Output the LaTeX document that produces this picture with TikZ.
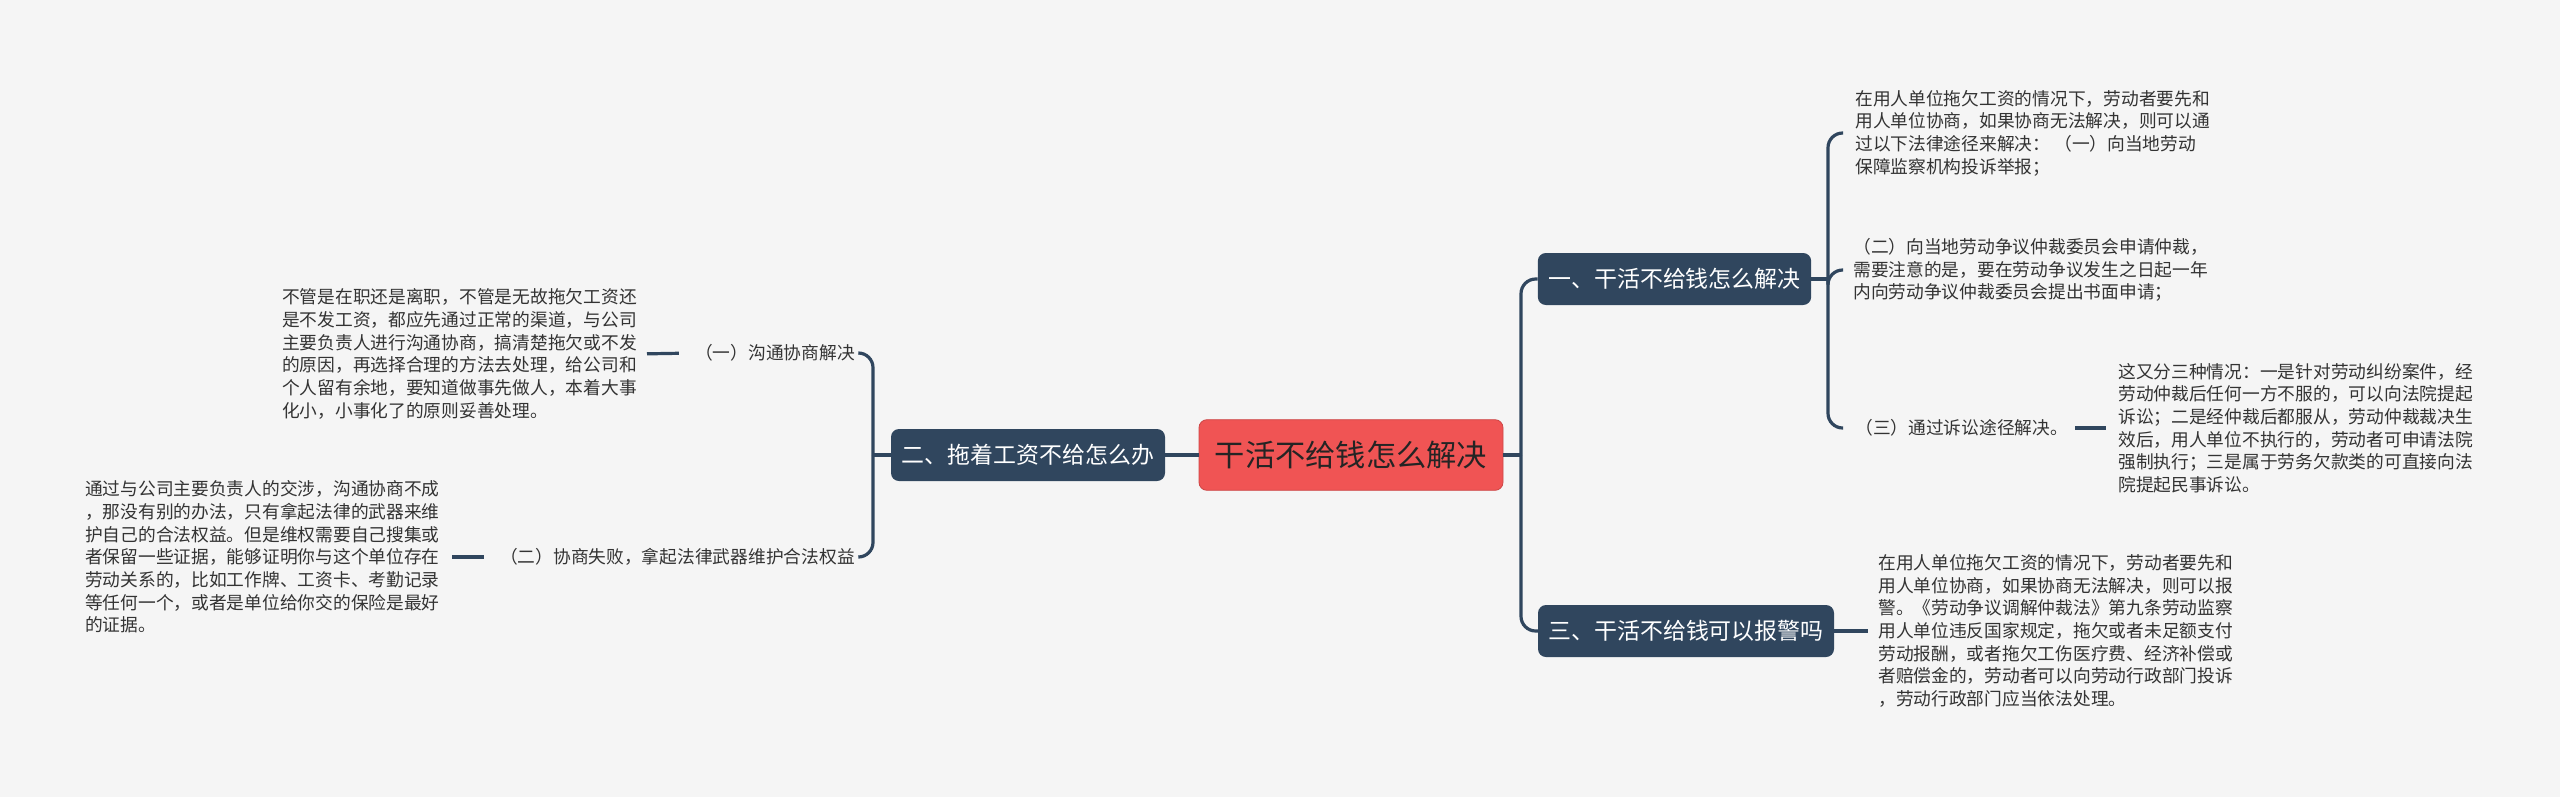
\documentclass[tikz,border=0pt]{standalone}
\usepackage{fontspec}
\setmainfont{Noto Sans CJK SC}
\definecolor{bgpaper}{RGB}{245,245,245}
\definecolor{navyline}{RGB}{48,70,94}
\definecolor{rootred}{RGB}{240,84,84}
\definecolor{textgray}{RGB}{51,51,51}

\begin{document}
\begin{tikzpicture}[
  x=0.75pt,
  y=-0.75pt,
  every node/.style={align=left, inner sep=0pt},
  rootbox/.style={
    draw=rootred!85!black,
    line width=0.6pt,
    fill=rootred,
    rounded corners=6pt,
    text=textgray!70!black,
    font=\fontsize{22.7}{27}\selectfont,
    minimum width=228pt,
    minimum height=53pt,
    align=center
  },
  topicbox/.style={
    fill=navyline,
    rounded corners=6pt,
    text=white,
    font=\fontsize{17.2}{21}\selectfont,
    minimum height=39pt,
    align=center
  },
  leaftext/.style={text=textgray, font=\fontsize{13.3}{17}\selectfont},
  wire/.style={draw=navyline, line width=2.4pt},
  bracket/.style={wire, rounded corners=11pt}
]
  % Paper and frame.
  \fill[bgpaper] (0,0) rectangle (2560,797);
  \useasboundingbox (0,0) rectangle (2560,797);

  % Centre and the three topics.
  \node[rootbox] (root) at (1351,455) {干活不给钱怎么解决};
  \node[topicbox, minimum width=205pt] (how) at (1674.5,279) {一、干活不给钱怎么解决};
  \node[topicbox, minimum width=205.5pt] (delay) at (1028,455) {二、拖着工资不给怎么办};
  \node[topicbox, minimum width=222pt] (police) at (1686,631) {三、干活不给钱可以报警吗};

  \coordinate (rootbus) at (1521,455);
  \draw[wire] (root.east) -- (rootbus);
  \draw[bracket] (rootbus) |- (how.west);
  \draw[bracket] (rootbus) |- (police.west);
  \draw[wire] (delay.east) -- (root.west);

  % Branch one: three legal routes.
  \node[leaftext, anchor=west] (complain) at (1855,133) {在用人单位拖欠工资的情况下，劳动者要先和\\用人单位协商，如果协商无法解决，则可以通\\过以下法律途径来解决：~（一）向当地劳动\\保障监察机构投诉举报；};
  \node[leaftext, anchor=west] (arbitrate) at (1853,270) {（二）向当地劳动争议仲裁委员会申请仲裁，\\需要注意的是，要在劳动争议发生之日起一年\\内向劳动争议仲裁委员会提出书面申请；};
  \node[leaftext, anchor=west] (lawsuit) at (1855,428) {（三）通过诉讼途径解决。};
  \node[leaftext, anchor=west] (lawsuitnote) at (2118,428) {这又分三种情况：一是针对劳动纠纷案件，经\\劳动仲裁后任何一方不服的，可以向法院提起\\诉讼；二是经仲裁后都服从，劳动仲裁裁决生\\效后，用人单位不执行的，劳动者可申请法院\\强制执行；三是属于劳务欠款类的可直接向法\\院提起民事诉讼。};

  \coordinate (howbus) at (1828,279);
  \draw[wire] (how.east) -- (howbus);
  \draw[bracket, shorten >=9pt] (howbus) |- (complain.west);
  \draw[bracket, shorten >=7.5pt] (howbus) |- (arbitrate.west);
  \draw[bracket, shorten >=9pt] (howbus) |- (lawsuit.west);
  \draw[wire, shorten <=5pt, shorten >=9pt] (lawsuit.east) -- (lawsuitnote.west);

  % Branch two: talk first, then the law.
  \node[leaftext, anchor=east] (talk) at (855,353) {（一）沟通协商解决};
  \node[leaftext, anchor=east] (fight) at (855,557) {（二）协商失败，拿起法律武器维护合法权益};
  \node[leaftext, anchor=east] (talknote) at (637,354) {不管是在职还是离职，不管是无故拖欠工资还\\是不发工资，都应先通过正常的渠道，与公司\\主要负责人进行沟通协商，搞清楚拖欠或不发\\的原因，再选择合理的方法去处理，给公司和\\个人留有余地，要知道做事先做人，本着大事\\化小，小事化了的原则妥善处理。};
  \node[leaftext, anchor=east] (fightnote) at (440,557) {通过与公司主要负责人的交涉，沟通协商不成\\，那没有别的办法，只有拿起法律的武器来维\\护自己的合法权益。但是维权需要自己搜集或\\者保留一些证据，能够证明你与这个单位存在\\劳动关系的，比如工作牌、工资卡、考勤记录\\等任何一个，或者是单位给你交的保险是最好\\的证据。};

  \coordinate (delaybus) at (873,455);
  \draw[wire] (delay.west) -- (delaybus);
  \draw[bracket, shorten >=2.5pt] (delaybus) |- (talk.east);
  \draw[bracket, shorten >=2.5pt] (delaybus) |- (fight.east);
  \draw[wire, shorten <=7.5pt, shorten >=12pt] (talknote.east) -- (talk.west);
  \draw[wire, shorten <=9pt, shorten >=12pt] (fightnote.east) -- (fight.west);

  % Branch three: reporting to the police.
  \node[leaftext, anchor=west] (policenote) at (1878,631) {在用人单位拖欠工资的情况下，劳动者要先和\\用人单位协商，如果协商无法解决，则可以报\\警。《劳动争议调解仲裁法》第九条劳动监察\\用人单位违反国家规定，拖欠或者未足额支付\\劳动报酬，或者拖欠工伤医疗费、经济补偿或\\者赔偿金的，劳动者可以向劳动行政部门投诉\\，劳动行政部门应当依法处理。};
  \draw[wire, shorten >=7.5pt] (police.east) -- (policenote.west);
\end{tikzpicture}
\end{document}
